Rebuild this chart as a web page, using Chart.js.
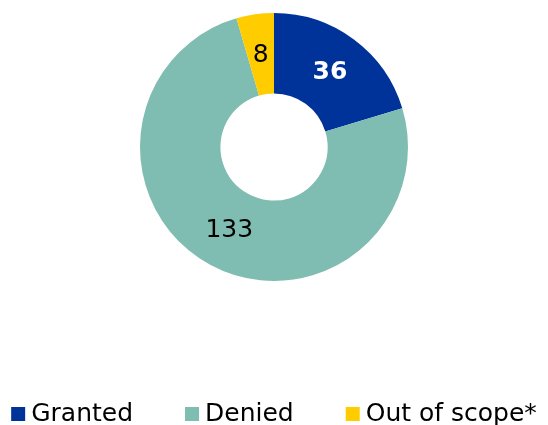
<!DOCTYPE html>
<html>
<head>
<meta charset="utf-8">
<script src="https://cdn.jsdelivr.net/npm/chart.js@4"></script>
<style>
  html, body { margin: 0; padding: 0; background: #fff; }
  #wrap { width: 548px; height: 425px; }
</style>
</head>
<body>
<div id="wrap"><canvas id="donut"></canvas></div>
<script>
const categories = ['Granted', 'Denied', 'Out of scope*'];
const counts = [36, 133, 8];
const colours = ['#003399', '#7FBCB1', '#FFCC00'];
const labelColours = ['#ffffff', '#000000', '#000000'];
const labelWeights = ['bold', 'normal', 'normal'];

const FONT = '"DejaVu Sans", Verdana, sans-serif';

// draws the value of each slice in the middle of its ring
const sliceLabels = {
    id: 'sliceLabels',
    afterDatasetsDraw(chart) {
        const ctx = chart.ctx;
        const meta = chart.getDatasetMeta(0);
        ctx.save();
        ctx.textAlign = 'center';
        ctx.textBaseline = 'middle';
        meta.data.forEach((arc, i) => {
            const p = arc.getCenterPoint();
            ctx.font = labelWeights[i] + ' 25px ' + FONT;
            ctx.fillStyle = labelColours[i];
            ctx.fillText(String(counts[i]), p.x, p.y + 1);
        });
        ctx.restore();
    }
};

// simple legend row along the bottom, square then text close together
const bottomLegend = {
    id: 'bottomLegend',
    afterDraw(chart) {
        const ctx = chart.ctx;
        const box = 14, gap = 6, spacing = 52;
        const baseline = 421;
        ctx.save();
        ctx.font = '25px ' + FONT;
        ctx.textBaseline = 'alphabetic';
        ctx.textAlign = 'left';
        const widths = chart.data.labels.map(t => box + gap + ctx.measureText(t).width);
        const total = widths.reduce((a, b) => a + b) + spacing * (widths.length - 1);
        let x = (chart.width - total) / 2;
        chart.data.labels.forEach((t, i) => {
            ctx.fillStyle = chart.data.datasets[0].backgroundColor[i];
            ctx.fillRect(x, baseline - box, box, box);
            ctx.fillStyle = '#000';
            ctx.fillText(t, x + box + gap, baseline);
            x += widths[i] + spacing;
        });
        ctx.restore();
    }
};

new Chart(document.getElementById('donut'), {
    type: 'doughnut',
    data: {
        labels: categories,
        datasets: [{
            data: counts,
            backgroundColor: colours,
            borderWidth: 0
        }]
    },
    options: {
        responsive: true,
        maintainAspectRatio: false,
        animation: false,
        cutout: '40%',
        layout: { padding: { top: 13, bottom: 144 } },
        plugins: {
            tooltip: { enabled: false },
            legend: { display: false }
        }
    },
    plugins: [sliceLabels, bottomLegend]
});
</script>
</body>
</html>
